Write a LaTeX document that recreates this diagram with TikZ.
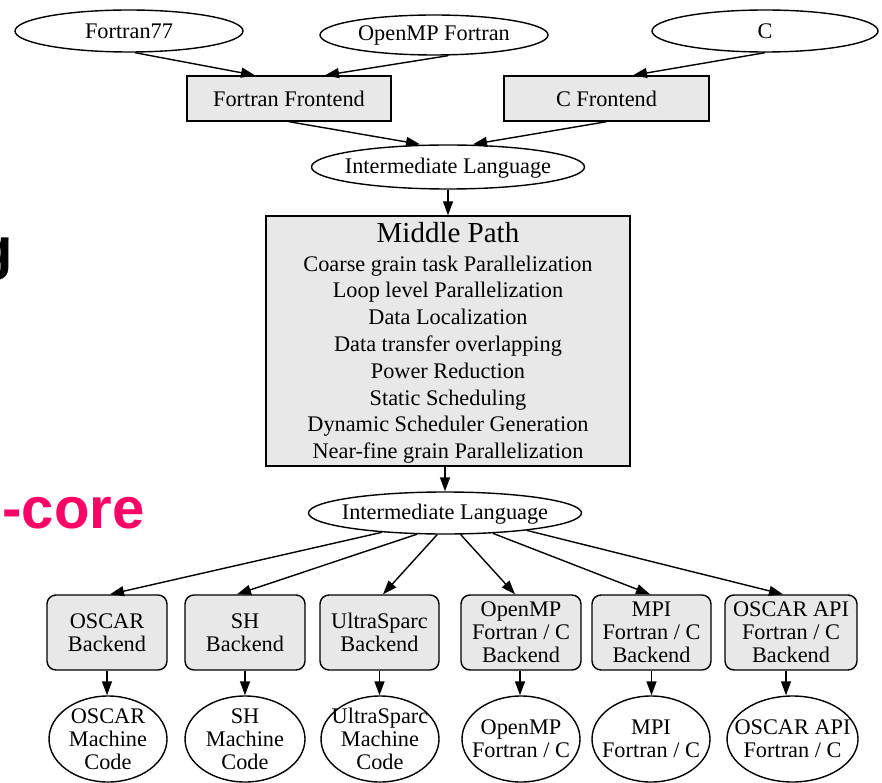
\documentclass[tikz,border=0pt]{standalone}
\usepackage{fontspec}
\setmainfont{Liberation Serif}
\newfontfamily\slidefont{Liberation Sans}
\usetikzlibrary{shapes.geometric,arrows.meta}
\definecolor{boxgray}{HTML}{E8E8E8}
\definecolor{slidepink}{HTML}{FF0066}
\begin{document}
\begin{tikzpicture}[x=1pt,y=-1pt,
  every node/.style={font=\fontsize{22.3}{23}\selectfont, inner sep=0pt, line width=1.4pt},
  oval/.style={draw, ellipse},
  frontbox/.style={draw, fill=boxgray, rectangle},
  backbox/.style={draw, fill=boxgray, rounded corners=9pt, align=center, minimum height=75pt},
  codeoval/.style={draw, ellipse, minimum height=86pt},
  arr/.style={line width=1.4pt, -{Triangle[length=14pt,width=10pt]}}]
\useasboundingbox (0,0) rectangle (882,783);

% slide fragments
\node[anchor=base east, font=\slidefont\bfseries\fontsize{58}{60}\selectfont] (frag1) at (14,269) {g};
\node[anchor=base east, font=\slidefont\bfseries\fontsize{58}{60}\selectfont, text=slidepink] (frag2) at (145,528) {-core};

% sources
\node[oval, minimum width=228pt, minimum height=42pt, label={center:Fortran77}] (f77) at (129,31) {};
\node[oval, minimum width=228pt, minimum height=40pt, label={center:OpenMP Fortran}] (ompf) at (434,35) {};
\node[oval, minimum width=226pt, minimum height=42pt, label={center:C}] (csrc) at (765,31) {};

% frontends
\node[frontbox, minimum width=204pt, minimum height=45pt] (ff) at (289,98.5) {Fortran Frontend};
\node[frontbox, minimum width=205pt, minimum height=45pt] (cf) at (606.5,98.5) {C Frontend};

% intermediate language 1
\node[oval, minimum width=273pt, minimum height=44pt, label={[yshift=-1.5pt]center:Intermediate Language}] (il1) at (448,167) {};

% middle path
\node[frontbox, minimum width=364pt, minimum height=250pt, align=center, font=\fontsize{22.3}{26.8}\selectfont] (mp) at (448,341)
 {\rule{0pt}{24pt}{\fontsize{29}{31}\selectfont Middle Path}\\[2pt]
  Coarse grain task Parallelization\\
  Loop level Parallelization\\
  Data Localization\\
  Data transfer overlapping\\
  Power Reduction\\
  Static Scheduling\\
  Dynamic Scheduler Generation\\
  Near-fine grain Parallelization};

% intermediate language 2
\node[oval, minimum width=273pt, minimum height=42pt, label={[yshift=-1.5pt]center:Intermediate Language}] (il2) at (445,513) {};

% backends
\node[backbox, minimum width=120pt] (b1) at (107,632.5) {OSCAR\\Backend};
\node[backbox, minimum width=120pt] (b2) at (245,632.5) {SH\\Backend};
\node[backbox, minimum width=119pt] (b3) at (379.5,632.5) {UltraSparc\\Backend};
\node[backbox, minimum width=120pt] (b4) at (521,632.5) {OpenMP\\Fortran / C\\Backend};
\node[backbox, minimum width=119pt] (b5) at (651.5,632.5) {MPI\\Fortran / C\\Backend};
\node[backbox, minimum width=132pt] (b6) at (791,632.5) {OSCAR API\\Fortran / C\\Backend};

% machine code
\node[codeoval, minimum width=118pt, label={[align=center]center:{OSCAR\\Machine\\Code}}] (m1) at (108,739) {};
\node[codeoval, minimum width=120pt, label={[align=center]center:{SH\\Machine\\Code}}] (m2) at (245,739) {};
\node[codeoval, minimum width=118pt, label={[align=center]center:{UltraSparc\\Machine\\Code}}] (m3) at (380,739) {};
\node[codeoval, minimum width=118pt, label={[align=center]center:{OpenMP\\Fortran / C}}] (m4) at (521,739) {};
\node[codeoval, minimum width=118pt, label={[align=center]center:{MPI\\Fortran / C}}] (m5) at (651,739) {};
\node[codeoval, minimum width=131pt, label={[align=center]center:{OSCAR API\\Fortran / C}}] (m6) at (792.5,739) {};

% edges top
\draw[arr] ([xshift=6pt]f77.south) -- ([xshift=-34pt]ff.north);
\draw[arr] ([xshift=14pt]ompf.south) -- ([xshift=36pt]ff.north);
\draw[arr] (csrc.south) -- ([xshift=26.5pt]cf.north);
\draw[arr] (ff.south) -- ([xshift=-28pt]il1.north);
\draw[arr] (cf.south) -- ([xshift=25pt]il1.north);
\draw[arr] (il1.south) -- (mp.north);
\draw[arr] (mp.south -| il2.north) -- (il2.north);

% edges to backends
\draw[arr] (il2.-163.2) -- ([xshift=3pt]b1.north);
\draw[arr] (il2.-143.7) -- ([xshift=-8pt]b2.north);
\draw[arr] (il2.-110.9) -- ([xshift=3.5pt]b3.north);
\draw[arr] (il2.-54.3) -- ([xshift=-6pt]b4.north);
\draw[arr] (il2.-23.8) -- ([xshift=-1.5pt]b5.north);
\draw[arr] (il2.-12.5) -- ([xshift=-8pt]b6.north);

% backend to code
\draw[arr] (b1.south) -- (b1.south |- m1.north);
\draw[arr] (b2.south) -- (b2.south |- m2.north);
\draw[arr] (b3.south) -- (b3.south |- m3.north);
\draw[arr] ([xshift=-1pt]b4.south) -- ([xshift=-1pt]b4.south |- m4.north);
\draw[arr] (b5.south) -- (b5.south |- m5.north);
\draw[arr] ([xshift=-5pt]b6.south) -- ([xshift=-5pt]b6.south |- m6.north);
\end{tikzpicture}
\end{document}
